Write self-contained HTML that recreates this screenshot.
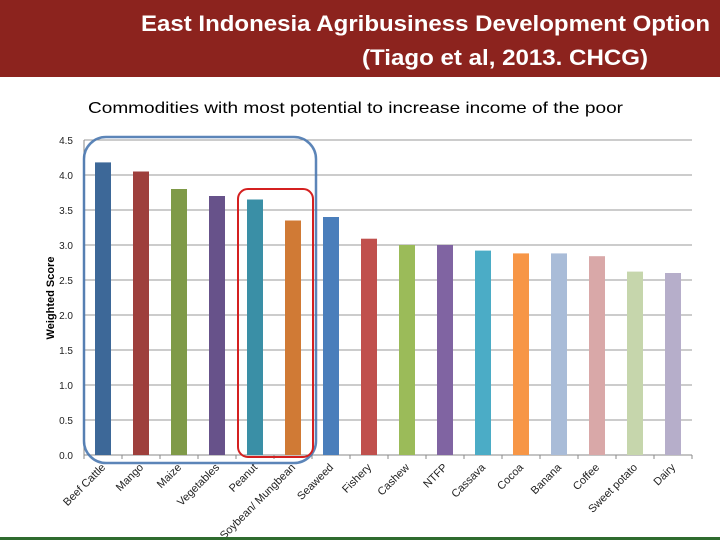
<!DOCTYPE html>
<html><head><meta charset="utf-8"><style>
html,body{margin:0;padding:0;background:#fff;}
svg{display:block;font-family:"Liberation Sans",sans-serif;}
</style></head><body>
<svg id="chart" width="720" height="540" viewBox="0 0 720 540" xmlns="http://www.w3.org/2000/svg">
<rect x="0" y="0" width="720" height="77" fill="#8c231e"/>
<text x="141" y="31" fill="#fff" font-size="22" font-weight="bold" textLength="569" lengthAdjust="spacingAndGlyphs">East Indonesia Agribusiness Development Option</text>
<text x="362" y="65" fill="#fff" font-size="22" font-weight="bold" textLength="286" lengthAdjust="spacingAndGlyphs">(Tiago et al, 2013. CHCG)</text>
<text x="88" y="113" fill="#000" font-size="16" textLength="535" lengthAdjust="spacingAndGlyphs">Commodities with most potential to increase income of the poor</text>
<g id="grid"></g>
<g id="bars"></g>
<g id="labels"></g>
<text transform="translate(54,298) rotate(-90)" text-anchor="middle" font-size="11" font-weight="bold" fill="#000">Weighted Score</text>
<rect x="84" y="137" width="232" height="326" rx="22" fill="none" stroke="#4a78b0" stroke-width="2.5" opacity="0.9"/>
<rect x="238" y="189" width="75" height="268" rx="10" fill="none" stroke="#d42020" stroke-width="2"/>
<rect x="0" y="537" width="720" height="3" fill="#2e6b2e"/>
</svg>
<script>
const categories = ["Beef Cattle","Mango","Maize","Vegetables","Peanut","Soybean/ Mungbean","Seaweed","Fishery","Cashew","NTFP","Cassava","Cocoa","Banana","Coffee","Sweet potato","Dairy"];
const values = [4.18,4.05,3.8,3.7,3.65,3.35,3.4,3.09,3.0,3.0,2.92,2.88,2.88,2.84,2.62,2.6];
const colors = ["#3d6898","#9e3f3c","#7f9a48","#67528a","#3a8fa6","#d07a35","#4a7ebb","#c0504d","#9bbb59","#8064a2","#4bacc6","#f79646","#a9bcd8","#d9a8a8","#c6d6ac","#b6aeca"];
const yTicks = [0,0.5,1,1.5,2,2.5,3,3.5,4,4.5];
const NS="http://www.w3.org/2000/svg";
const X0=84,X1=692,Y0=455,Y1=140,YMAX=4.5;
const y=v=>Y0-(v/YMAX)*(Y0-Y1);
const band=(X1-X0)/categories.length;
const xc=i=>X0+band*(i+0.5);
const mk=(t,a)=>{const e=document.createElementNS(NS,t);for(const k in a)e.setAttribute(k,a[k]);return e;};
const grid=document.getElementById('grid'),bars=document.getElementById('bars'),labels=document.getElementById('labels');
yTicks.forEach(t=>{
  const l=mk('line',{x1:X0,x2:X1,y1:y(t),y2:y(t),stroke:t===0?'#888':'#999','stroke-width':1});
  
  
  grid.appendChild(l);
  const tx=mk('text',{x:X0-11,y:y(t)+4,'text-anchor':'end','font-size':10,fill:'#222'});
  tx.textContent=t.toFixed(1);
  
  
  grid.appendChild(tx);
});
const ax=mk('line',{x1:X0,x2:X0,y1:Y1,y2:Y0,stroke:'#888'});


grid.appendChild(ax);
for(let i=0;i<=categories.length;i++){
  const tk=mk('line',{x1:X0+band*i,x2:X0+band*i,y1:Y0,y2:Y0+4,stroke:'#888'});
  
  
  grid.appendChild(tk);
}
categories.forEach((c,i)=>{
  const bw=16;
  const r=mk('rect',{x:xc(i)-bw/2,y:y(values[i]),width:bw,height:Y0-y(values[i]),fill:colors[i]});
  
  
  bars.appendChild(r);
  const t=mk('text',{transform:`translate(${xc(i)+3},${Y0+13}) rotate(-45)`,'text-anchor':'end','font-size':11,fill:'#222'});
  t.textContent=c;
  
  
  labels.appendChild(t);
});
</script>
</body></html>
